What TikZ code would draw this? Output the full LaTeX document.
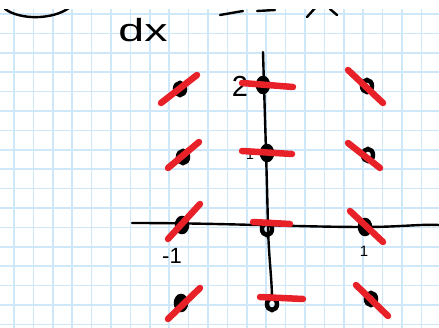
\documentclass[tikz,border=0pt]{standalone}
\usepackage{fontspec}
\setmainfont{Liberation Sans}
\usetikzlibrary{shapes.geometric}
\definecolor{gridblue}{RGB}{206,232,250}
\definecolor{penred}{RGB}{232,32,40}

\begin{document}
\begin{tikzpicture}[x=1pt, y=-1pt,
    pen/.style={line width=2.4pt, line cap=round, line join=round},
    slope/.style={penred, line width=6.5pt, line cap=round},
    dot/.style={ellipse, draw, fill, line width=3.5pt, minimum width=11pt, minimum height=15pt, inner sep=0pt},
    ring/.style={ellipse, draw, line width=4.5pt, minimum width=10pt, minimum height=12pt, inner sep=0pt},
    hand/.style={inner sep=0pt}]

    \useasboundingbox (0,0) rectangle (439,328);

    % Draw the grid paper
    \foreach \k in {0,...,21}
        \draw[gridblue, line width=1.6pt] ({14+19.4*\k},0) -- ({14+19.4*\k},328);
    \foreach \k in {0,...,16}
        \draw[gridblue, line width=1.6pt] (0,{14+19.4*\k}) -- (439,{14+19.4*\k});

    % Draw the cut-off equation at the top
    \draw[pen] (5,9) .. controls (20,20) and (52,20) .. (69,8);
    \node[hand, font=\fontsize{32}{32}\selectfont, xscale=1.45, transform shape] (dx) at (143,30) {dx};
    \draw[pen] (220,15) -- (243,11);
    \draw[pen] (257,11) -- (275,10);
    \draw[pen] (307,17) -- (316,7);
    \draw[pen] (330,9) -- (337,15);
    \fill[white] (0,0) rectangle (439,9);

    % Draw the axes
    \draw[pen] (132,223) .. controls (220,223) and (300,227) .. (365,227)
        .. controls (400,227) and (420,224) .. (439,225);
    \draw[pen] (263,52) .. controls (265,120) and (267,180) .. (268,228)
        .. controls (269,260) and (272,280) .. (272,300);

    % Draw the labels
    \node[hand, font=\fontsize{29}{29}\selectfont] (lbltwo) at (240,86) {2};
    \node[hand, font=\fontsize{14}{14}\selectfont] (lblone) at (250,155) {1};
    \node[hand, font=\fontsize{22}{22}\selectfont] (lblmone) at (172,256) {-1};
    \node[hand, font=\fontsize{15}{15}\selectfont] (lblpone) at (364,251) {1};

    % Draw the points
    \node[ring, fill] (m1p2) at (180,89) {};
    \node[dot] (z2) at (263,85) {};
    \node[ring] (p1p2) at (367,86) {};
    \node[ring, fill] (m1p1) at (183,157) {};
    \node[dot] (z1) at (267,153) {};
    \node[ring] (p1p1) at (368,155) {};
    \node[dot] (m1z) at (182,225) {};
    \node[ring] (origin) at (267,229) {};
    \node[dot] (p1z) at (365,227) {};
    \node[dot] (m1m1) at (181,303) {};
    \node[ring] (zm1) at (272,304) {};
    \node[ring] (p1m1) at (371,299) {};

    % Draw the slopes
    \draw[slope] ([shift={(-19,14)}]m1p2.center) -- ([shift={(17,-14)}]m1p2.center);
    \draw[slope] ([shift={(-21,-2)}]z2.center) -- ([shift={(30,2)}]z2.center);
    \draw[slope] ([shift={(-19,-16)}]p1p2.center) -- ([shift={(16,17)}]p1p2.center);
    \draw[slope] ([shift={(-15,11)}]m1p1.center) -- ([shift={(16,-15)}]m1p1.center);
    \draw[slope] ([shift={(-25,-2)}]z1.center) -- ([shift={(25,1)}]z1.center);
    \draw[slope] ([shift={(-20,-12)}]p1p1.center) -- ([shift={(12,13)}]p1p1.center);
    \draw[slope] ([shift={(-14,14)}]m1z.center) -- ([shift={(18,-21)}]m1z.center);
    \draw[slope] ([shift={(-14,-7)}]origin.center) -- ([shift={(23,-5)}]origin.center);
    \draw[slope] ([shift={(-15,-16)}]p1z.center) -- ([shift={(18,15)}]p1z.center);
    \draw[slope] ([shift={(-13,16)}]m1m1.center) -- ([shift={(19,-15)}]m1m1.center);
    \draw[slope] ([shift={(-12,-7)}]zm1.center) -- ([shift={(31,-5)}]zm1.center);
    \draw[slope] ([shift={(-15,-14)}]p1m1.center) -- ([shift={(17,17)}]p1m1.center);

\end{tikzpicture}
\end{document}
